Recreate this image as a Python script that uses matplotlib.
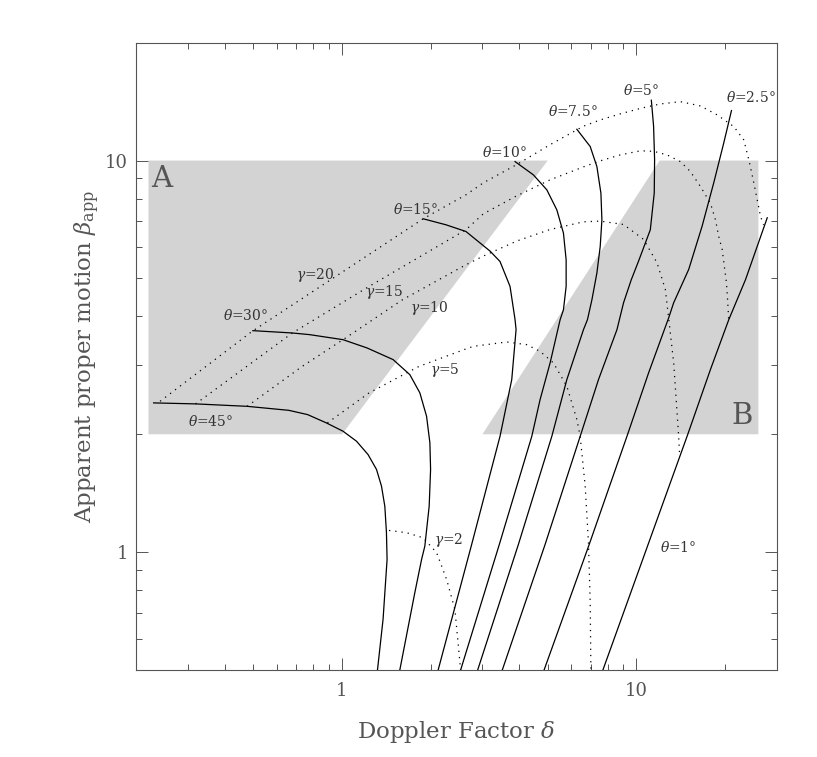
import matplotlib

matplotlib.use("Agg")
import matplotlib.pyplot as plt
from matplotlib.patches import Polygon
from matplotlib.ticker import LogLocator, NullFormatter
import numpy as np

# Solid curves: constant viewing angle theta
theta45_delta = [0.229, 0.318, 0.476, 0.660, 0.764, 0.885, 1.008, 1.120, 1.226, 1.310, 1.362, 1.398,
                 1.416, 1.423, 1.379, 1.320]
theta45_beta = [2.405, 2.391, 2.357, 2.302, 2.245, 2.138, 2.036, 1.920, 1.775, 1.626, 1.474, 1.310,
                1.121, 0.958, 0.674, 0.50]

theta30_delta = [0.498, 0.678, 0.776, 1.008, 1.217, 1.492, 1.700, 1.839, 1.938, 1.989, 2.000, 1.978,
                 1.912, 1.864, 1.768, 1.572]
theta30_beta = [3.678, 3.628, 3.593, 3.488, 3.322, 3.102, 2.840, 2.551, 2.223, 1.902, 1.626, 1.310,
                1.036, 0.958, 0.788, 0.50]

theta15_delta = [1.887, 2.255, 2.637, 3.184, 3.443, 3.724, 3.873, 3.904, 3.774, 3.443, 2.758, 2.122]
theta15_beta = [7.101, 6.855, 6.590, 5.873, 5.524, 4.771, 3.924, 3.700, 2.758, 1.976, 1.046, 0.50]

theta10_delta = [3.873, 4.470, 4.966, 5.370, 5.656, 5.776, 5.776, 5.656, 5.511, 5.095, 4.711, 4.415,
                 3.424, 2.530]
theta10_beta = [9.94, 9.194, 8.419, 7.485, 6.527, 5.580, 4.771, 4.159, 3.924, 3.042, 2.452, 1.976,
                1.046, 0.50]

theta7_delta = [6.282, 6.973, 7.347, 7.582, 7.641, 7.541, 7.347, 7.067, 6.825, 6.615, 5.808, 5.164,
                3.975, 2.891]
theta7_beta = [12.02, 10.86, 9.654, 8.257, 7.060, 6.034, 5.162, 4.412, 3.924, 3.700, 2.758, 1.976,
               1.046, 0.50]

theta5_delta = [11.25, 11.45, 11.54, 11.51, 11.16, 10.16, 9.616, 9.053, 8.596, 7.440, 6.447, 4.899, 3.505]
theta5_beta = [14.26, 12.24, 10.06, 8.272, 6.657, 5.515, 4.963, 4.335, 3.700, 2.758, 1.976, 1.046, 0.50]

theta2_delta = [21.06, 19.83, 18.33, 16.74, 15.07, 13.40, 12.88, 11.01, 9.296, 6.918, 4.861]
theta2_beta = [13.42, 11.10, 8.773, 6.803, 5.271, 4.335, 3.963, 2.869, 1.976, 1.046, 0.50]

theta1_delta = [27.86, 23.50, 20.62, 17.86, 14.88, 11.77, 7.701]
theta1_beta = [7.143, 4.963, 3.924, 2.925, 1.976, 1.212, 0.50]

# Dotted curves: constant Lorentz factor gamma
gamma20_delta = [0.241, 0.495, 0.952, 1.887, 2.637, 3.021, 3.925, 5.095, 6.615, 7.541, 8.822, 10.32,
                 12.07, 14.12, 16.52, 18.83, 21.45, 23.19, 24.13, 24.96, 25.76, 26.44, 27.07]
gamma20_beta = [2.428, 3.663, 5.059, 7.101, 8.175, 8.773, 9.768, 10.98, 12.24, 12.70, 13.16, 13.59,
                13.95, 14.14, 13.79, 13.08, 12.21, 11.29, 10.04, 8.929, 7.937, 7.198, 6.855]

gamma15_delta = [0.318, 0.678, 1.236, 2.637, 3.021, 3.925, 5.095, 6.615, 7.541, 8.822, 10.32, 11.45,
                 12.72, 14.12, 15.27, 16.52, 17.86, 18.58, 19.06, 19.58, 20.25, 20.46, 20.62]
gamma15_beta = [2.391, 3.628, 4.771, 6.657, 7.311, 8.128, 8.929, 9.636, 9.982, 10.34, 10.59, 10.56,
                10.34, 9.94, 9.375, 8.584, 7.785, 7.060, 6.400, 5.929, 4.875, 4.335, 3.885]

gamma10_delta = [0.476, 0.733, 1.029, 1.606, 2.637, 3.021, 3.925, 5.095, 6.615, 7.541, 9.053, 10.59,
                 11.76, 12.55, 12.88, 13.40, 13.76, 13.93, 14.04]
gamma10_beta = [2.357, 2.982, 3.524, 4.412, 5.419, 5.703, 6.230, 6.668, 6.976, 7.005, 6.866, 6.289,
                5.483, 4.688, 3.963, 3.042, 2.268, 1.976, 1.758]

gamma5_delta = [0.892, 1.236, 1.829, 2.637, 2.793, 3.629, 4.245, 4.711, 5.230, 5.808, 6.282, 6.447,
                6.704, 6.879, 6.973, 7.010]
gamma5_beta = [2.138, 2.551, 2.982, 3.303, 3.354, 3.441, 3.387, 3.257, 3.042, 2.652, 2.181, 1.976,
               1.474, 1.057, 0.743, 0.50]

gamma2_delta = [1.445, 1.657, 1.887, 2.097, 2.267, 2.419, 2.530]
gamma2_beta = [1.136, 1.121, 1.088, 0.9965, 0.852, 0.714, 0.50]

# shaded regions A and B (delta, beta corners)
region_a_delta = [0.22, 0.22, 5.0, 1.0]
region_a_beta = [2.0, 10.0, 10.0, 2.0]
region_b_delta = [3.0, 12.0, 26.0, 26.0]
region_b_beta = [2.0, 10.0, 10.0, 2.0]

GREY = "#555555"
plt.rcParams["font.family"] = ["DejaVu Serif"]
plt.rcParams["mathtext.fontset"] = "dejavuserif"

fig = plt.figure(figsize=(8.17, 7.57), dpi=100)
ax = fig.add_axes([0.16683, 0.11493, 0.78384, 0.82867])
ax.set_xscale("log")
ax.set_yscale("log")
ax.set_xlim(0.2, 30)
ax.set_ylim(0.5, 20)

for xs, ys in [(region_a_delta, region_a_beta), (region_b_delta, region_b_beta)]:
    ax.add_patch(Polygon(np.column_stack([xs, ys]), closed=True,
                         facecolor="#d3d3d3", edgecolor="none", zorder=0))

solid = [
    (theta45_delta, theta45_beta), (theta30_delta, theta30_beta),
    (theta15_delta, theta15_beta), (theta10_delta, theta10_beta),
    (theta7_delta, theta7_beta), (theta5_delta, theta5_beta),
    (theta2_delta, theta2_beta), (theta1_delta, theta1_beta),
]
for xs, ys in solid:
    ax.plot(xs, ys, color="black", linewidth=0.9, zorder=3)

dotted = [
    (gamma20_delta, gamma20_beta), (gamma15_delta, gamma15_beta),
    (gamma10_delta, gamma10_beta), (gamma5_delta, gamma5_beta),
    (gamma2_delta, gamma2_beta),
]
for xs, ys in dotted:
    ax.plot(xs, ys, color="black", linewidth=0.9, linestyle=(0, (1, 4)), zorder=2)

lab = dict(fontsize=10, color="#333333", ha="center", va="center", zorder=4)
ax.text(1.782, 7.52, r"$\theta$=15°", **lab)
ax.text(0.470, 4.02, r"$\theta$=30°", **lab)
ax.text(0.357, 2.159, r"$\theta$=45°", **lab)
ax.text(3.58, 10.50, r"$\theta$=10°", **lab)
ax.text(6.09, 13.37, r"$\theta$=7.5°", **lab)
ax.text(10.38, 15.12, r"$\theta$=5°", **lab)
ax.text(24.44, 14.45, r"$\theta$=2.5°", **lab)
ax.text(13.93, 1.026, r"$\theta$=1°", **lab)
ax.text(0.814, 5.11, r"$\gamma$=20", **lab)
ax.text(1.390, 4.62, r"$\gamma$=15", **lab)
ax.text(1.978, 4.20, r"$\gamma$=10", **lab)
ax.text(2.242, 2.924, r"$\gamma$=5", **lab)
ax.text(2.296, 1.077, r"$\gamma$=2", **lab)
ax.text(0.2446, 8.965, "A", fontsize=21, color=GREY, ha="center", va="center")
ax.text(22.9, 2.223, "B", fontsize=21, color=GREY, ha="center", va="center")

ax.set_xticks([1, 10], labels=["1", "10"])
ax.set_yticks([1, 10], labels=["1", "10"])
for axis in (ax.xaxis, ax.yaxis):
    axis.set_minor_locator(LogLocator(base=10, subs=np.arange(2, 10)))
    axis.set_minor_formatter(NullFormatter())
ax.tick_params(which="both", direction="in", top=True, right=True,
               color=GREY, width=0.7, labelcolor=GREY, labelsize=13)
ax.tick_params(which="major", length=8.6)
ax.tick_params(which="minor", length=4.3)
ax.tick_params(axis="x", pad=9)
ax.tick_params(axis="y", pad=6)
for sp in ax.spines.values():
    sp.set_color(GREY)
    sp.set_linewidth(0.8)

ax.set_xlabel(r"Doppler Factor $\delta$", fontsize=16.5, color=GREY, labelpad=13)
ax.set_ylabel(r"Apparent proper motion $\beta_{\rm app}$", fontsize=16.5, color=GREY, labelpad=2)

fig.savefig("out.png", dpi=100)
